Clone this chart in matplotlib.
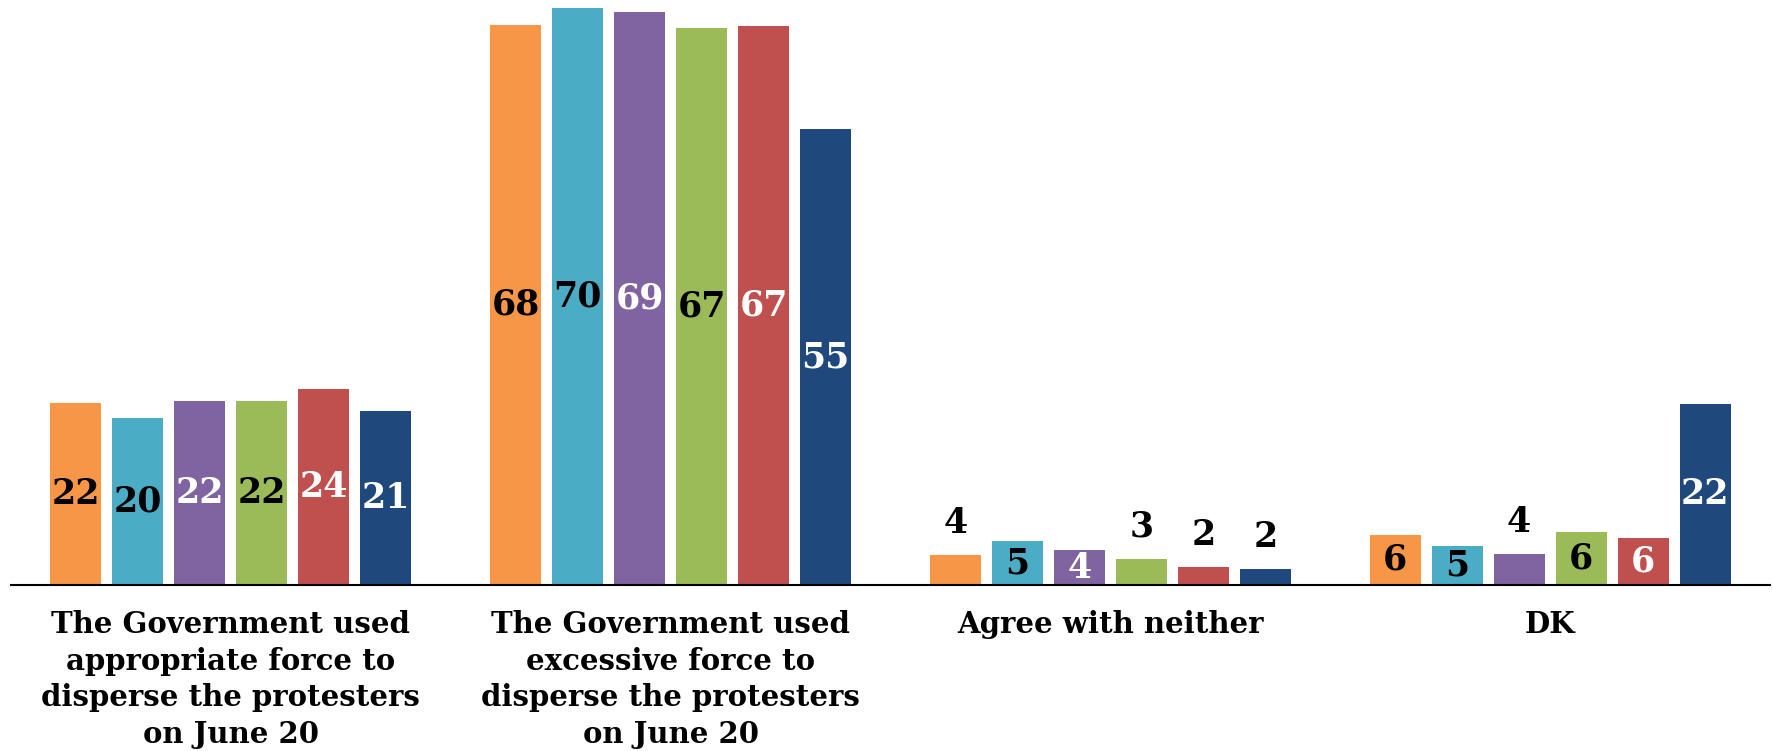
import numpy as np
import matplotlib
matplotlib.use("Agg")
import matplotlib.pyplot as plt

categories = ["The Government used\nappropriate force to\ndisperse the protesters\non June 20",
              "The Government used\nexcessive force to\ndisperse the protesters\non June 20",
              "Agree with neither",
              "DK"]
# one row per category, one column per series (bar heights)
values = [[22.1, 20.3, 22.3, 22.3, 23.8, 21.1],
          [68.0, 70.0, 69.5, 67.6, 67.8, 55.3],
          [3.6, 5.3, 4.2, 3.2, 2.2, 1.9],
          [6.1, 4.7, 3.8, 6.4, 5.7, 22.0]]
labels = [[22, 20, 22, 22, 24, 21],
          [68, 70, 69, 67, 67, 55],
          [4, 5, 4, 3, 2, 2],
          [6, 5, 4, 6, 6, 22]]
colors = ["#F79646", "#4BACC6", "#8064A2", "#9BBB59", "#C0504D", "#1F497D"]
text_colors = ["black", "black", "white", "black", "white", "white"]

plt.rcParams['font.family'] = ['DejaVu Serif']

fig = plt.figure(figsize=(17.73, 7.51), dpi=100)
ax = fig.add_axes([11/1773, 1 - 585/751, (1770 - 11)/1773, 585/751])

values = np.array(values)
n_cat, n_ser = values.shape
x = np.arange(n_cat)
step = 0.141
width = 0.116
for j in range(n_ser):
    xs = x + (j - (n_ser - 1) / 2) * step
    bars = ax.bar(xs, values[:, j], width, color=colors[j], zorder=2)
    for i, b in enumerate(bars):
        h = values[i, j]
        txt = str(labels[i][j])
        if h < 4:
            ax.annotate(txt, (b.get_x() + b.get_width() / 2, h), xytext=(0, 23),
                        textcoords="offset points", ha="center", va="center",
                        fontsize=25, fontweight="bold", color="black")
        else:
            ax.text(b.get_x() + b.get_width() / 2, h / 2, txt, ha="center", va="center",
                    fontsize=25, fontweight="bold", color=text_colors[j])

ax.set_xlim(-0.5, n_cat - 0.5)
ax.set_ylim(0, 71)
ax.set_xticks(x)
ax.set_xticklabels(categories, fontsize=21, fontweight="bold", linespacing=1.33, va="top")
ax.tick_params(axis="x", length=0, pad=18)
ax.set_yticks([])
for s in ["top", "left", "right"]:
    ax.spines[s].set_visible(False)
ax.spines["bottom"].set_linewidth(1.5)
ax.spines["bottom"].set_zorder(3)

fig.savefig("out.png", dpi=100)
